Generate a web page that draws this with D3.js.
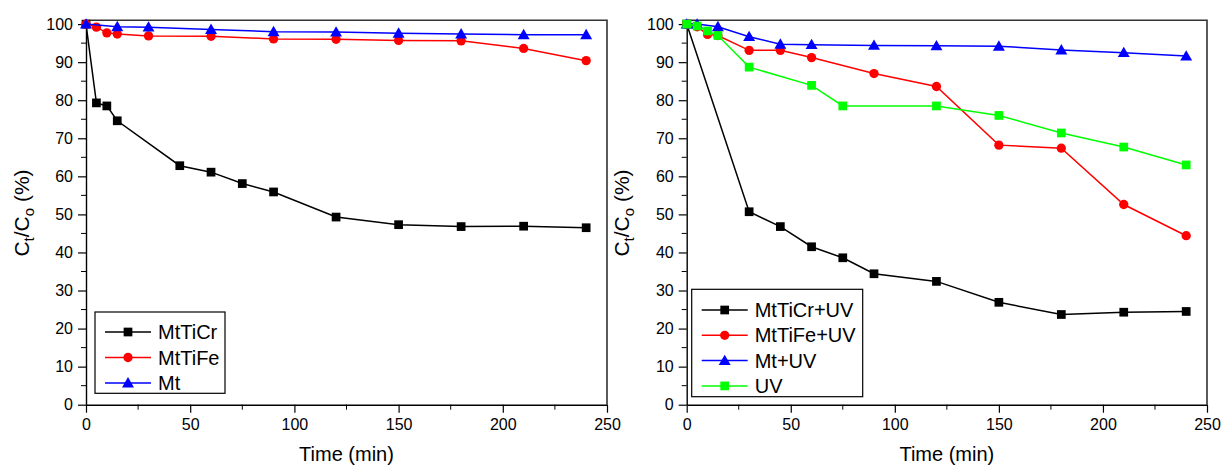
<!DOCTYPE html>
<html>
<head>
<meta charset="utf-8">
<script src="https://cdn.jsdelivr.net/npm/d3@7"></script>
<style>
  html, body { margin: 0; padding: 0; background: #fff; }
  svg { display: block; }
  text { font-family: "Liberation Sans", Arial, sans-serif; fill: #000; }
</style>
</head>
<body>
<svg id="chart" width="1223" height="468"></svg>
<script>
// ---------------- DATA ----------------
// Left panel (dark)
const tMtTiCr = [0, 5, 10, 15, 45, 60, 75, 90, 120, 150, 180, 210, 240];
const vMtTiCr = [100, 79.3, 78.5, 74.6, 62.8, 61.1, 58.1, 55.9, 49.3, 47.3, 46.8, 46.9, 46.5];
const tMtTiFe = [0, 5, 10, 15, 30, 60, 90, 120, 150, 180, 210, 240];
const vMtTiFe = [100, 99.2, 97.7, 97.4, 96.9, 96.8, 96.1, 96.0, 95.7, 95.6, 93.6, 90.4];
const tMt = [0, 15, 30, 60, 90, 120, 150, 180, 210, 240];
const vMt = [100, 99.3, 99.2, 98.6, 98.0, 97.9, 97.6, 97.4, 97.2, 97.2];

// Right panel (UV)
const tMtTiCrUV = [0, 30, 45, 60, 75, 90, 120, 150, 180, 210, 240];
const vMtTiCrUV = [100, 50.7, 46.8, 41.5, 38.6, 34.4, 32.4, 26.9, 23.7, 24.3, 24.5];
const tMtTiFeUV = [0, 5, 10, 15, 30, 45, 60, 90, 120, 150, 180, 210, 240];
const vMtTiFeUV = [100, 99.3, 97.3, 97.0, 93.1, 93.1, 91.2, 87.0, 83.6, 68.2, 67.4, 52.6, 44.4];
const tMtUV = [0, 5, 15, 30, 45, 60, 90, 120, 150, 180, 210, 240];
const vMtUV = [100, 100, 99.3, 96.7, 94.7, 94.6, 94.4, 94.3, 94.2, 93.2, 92.5, 91.6];
const tUV = [0, 5, 10, 15, 30, 60, 75, 120, 150, 180, 210, 240];
const vUV = [100, 99.5, 98.2, 97.0, 88.7, 83.9, 78.5, 78.5, 76.0, 71.4, 67.7, 63.0];

const xMajorTicks = [0, 50, 100, 150, 200, 250];
const xMinorTicks = [25, 75, 125, 175, 225];
const yMajorTicks = [0, 10, 20, 30, 40, 50, 60, 70, 80, 90, 100];
const yMinorTicks = [5, 15, 25, 35, 45, 55, 65, 75, 85, 95];

const leftNames = ["MtTiCr", "MtTiFe", "Mt"];
const rightNames = ["MtTiCr+UV", "MtTiFe+UV", "Mt+UV", "UV"];
const xTitle = "Time (min)";

// ---------------- DRAW ----------------
const svg = d3.select("#chart");
const zip = (ts, vs) => ts.map((t, i) => ({ t: t, v: vs[i] }));

const leftSeries = [
  { name: leftNames[0], data: zip(tMtTiCr, vMtTiCr), color: "#000000", sym: d3.symbolSquare },
  { name: leftNames[1], data: zip(tMtTiFe, vMtTiFe), color: "#ff0000", sym: d3.symbolCircle },
  { name: leftNames[2], data: zip(tMt, vMt), color: "#0000ff", sym: d3.symbolTriangle }
];
const rightSeries = [
  { name: rightNames[0], data: zip(tMtTiCrUV, vMtTiCrUV), color: "#000000", sym: d3.symbolSquare },
  { name: rightNames[1], data: zip(tMtTiFeUV, vMtTiFeUV), color: "#ff0000", sym: d3.symbolCircle },
  { name: rightNames[2], data: zip(tMtUV, vMtUV), color: "#0000ff", sym: d3.symbolTriangle },
  { name: rightNames[3], data: zip(tUV, vUV), color: "#00ff00", sym: d3.symbolSquare }
];

function symSize(sym) {
  if (sym === d3.symbolSquare) return 76;
  if (sym === d3.symbolCircle) return 68;
  return 62;
}

function panel(cfg) {
  const x = d3.scaleLinear().domain([0, 250]).range([cfg.x0, cfg.x1]);
  const y = d3.scaleLinear().domain([0, 101]).range([404.7, 20.3]);
  const g = svg.append("g");

  // frame top/right
  g.append("path")
    .attr("d", `M${x(0)},${y(101)}H${x(250)}V${y(0)}`)
    .attr("fill", "none").attr("stroke", "#333").attr("stroke-width", 1.6);

  // x axis
  const xa = g.append("g").attr("transform", `translate(0,${y(0)})`)
    .call(d3.axisBottom(x).tickValues(xMajorTicks).tickSize(8).tickSizeOuter(0).tickPadding(6).tickFormat(d3.format("d")));
  xa.selectAll("text").attr("font-size", 16).attr("font-family", "Liberation Sans, Arial, sans-serif").attr("fill", "#000");
  xa.append("g").selectAll("line").data(xMinorTicks).join("line")
    .attr("x1", d => x(d)).attr("x2", d => x(d)).attr("y1", 0).attr("y2", 5).attr("stroke", "#000");
  // y axis
  const ya = g.append("g").attr("transform", `translate(${x(0)},0)`)
    .call(d3.axisLeft(y).tickValues(yMajorTicks).tickSize(8).tickSizeOuter(0).tickPadding(5).tickFormat(d3.format("d")));
  ya.selectAll("text").attr("font-size", 16).attr("font-family", "Liberation Sans, Arial, sans-serif").attr("fill", "#000");
  ya.append("g").selectAll("line").data(yMinorTicks).join("line")
    .attr("y1", d => y(d)).attr("y2", d => y(d)).attr("x1", 0).attr("x2", -5).attr("stroke", "#000");
  [xa, ya].forEach(a => {
    a.selectAll(".domain").attr("stroke", "#000").attr("stroke-width", 1.4);
    a.selectAll(".tick line").attr("stroke", "#000").attr("stroke-width", 1.2);
  });

  // titles
  g.append("text").attr("x", (x(0) + x(250)) / 2).attr("y", 461)
    .attr("text-anchor", "middle").attr("font-size", 20).text(xTitle);
  const yt = g.append("text")
    .attr("transform", `translate(${cfg.ytx},213) rotate(-90)`)
    .attr("text-anchor", "middle").attr("font-size", 21);
  yt.append("tspan").text("C");
  yt.append("tspan").attr("font-size", 15).attr("dy", 5).text("t");
  yt.append("tspan").attr("dy", -5).text("/C");
  yt.append("tspan").attr("font-size", 15).attr("dy", 5).text("o");
  yt.append("tspan").attr("dy", -5).text(" (%)");

  // series
  const line = d3.line().x(d => x(d.t)).y(d => y(d.v));
  cfg.series.forEach(s => {
    const sg = g.append("g");
    sg.append("path").attr("d", line(s.data)).attr("fill", "none")
      .attr("stroke", s.color).attr("stroke-width", 1.5);
    sg.selectAll("path.m").data(s.data).join("path").attr("class", "m")
      .attr("transform", d => `translate(${x(d.t)},${y(d.v) + (s.sym === d3.symbolTriangle ? 1 : 0)})`)
      .attr("d", d3.symbol().type(s.sym).size(symSize(s.sym)))
      .attr("fill", s.color);
  });

  // legend
  const L = cfg.legend;
  const lg = g.append("g");
  lg.append("rect").attr("x", L.x).attr("y", L.y).attr("width", L.w).attr("height", L.h)
    .attr("fill", "#fff").attr("stroke", "#000").attr("stroke-width", 1.2);
  cfg.series.forEach((s, i) => {
    const cy = L.first + i * L.step;
    lg.append("line").attr("x1", L.x + 10).attr("x2", L.x + 56).attr("y1", cy).attr("y2", cy)
      .attr("stroke", s.color).attr("stroke-width", 1.5);
    lg.append("path").attr("transform", `translate(${L.x + 33},${cy + (s.sym === d3.symbolTriangle ? 1 : 0)})`)
      .attr("d", d3.symbol().type(s.sym).size(symSize(s.sym))).attr("fill", s.color);
    lg.append("text").attr("x", L.x + 63).attr("y", cy + 7).attr("font-size", 20).text(s.name);
  });
}

panel({ x0: 86, x1: 607, ytx: 29, series: leftSeries,
  legend: { x: 95, y: 312, w: 130, h: 81.3, first: 332, step: 25.5 } });
panel({ x0: 686.7, x1: 1207, ytx: 629, series: rightSeries,
  legend: { x: 691.7, y: 289.3, w: 171, h: 107.4, first: 310, step: 25.3 } });
</script>
</body>
</html>
